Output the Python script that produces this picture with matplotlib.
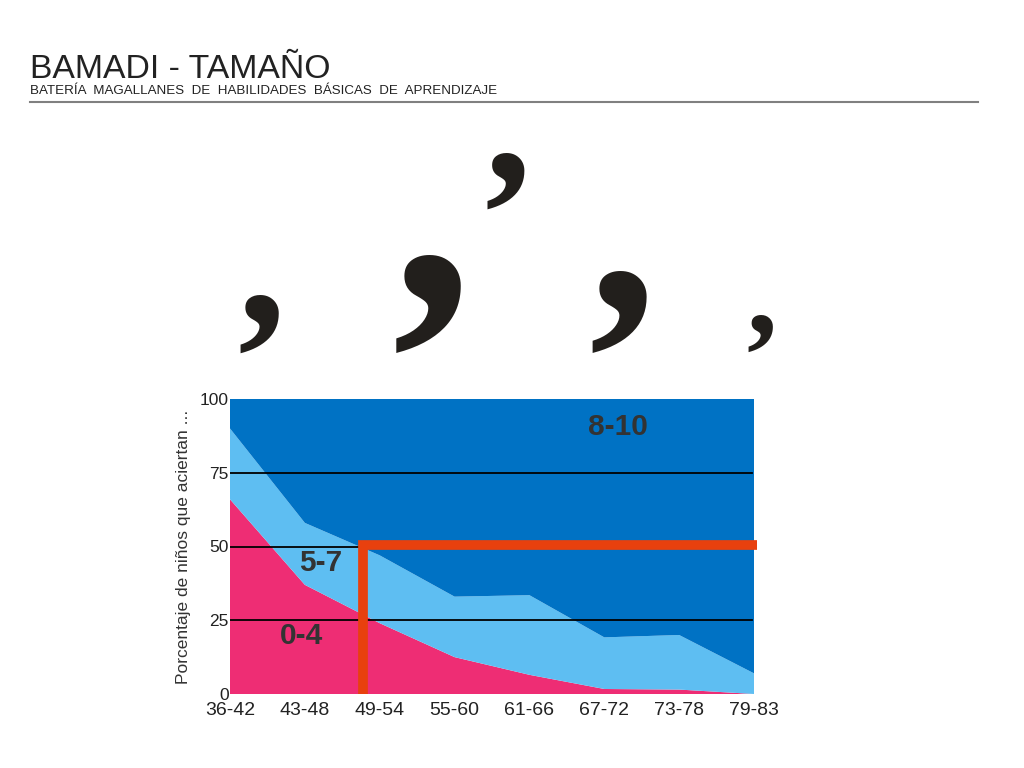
import matplotlib
matplotlib.use("Agg")
import matplotlib.pyplot as plt
from matplotlib.textpath import TextPath
from matplotlib.font_manager import FontProperties

# data
age_groups = ["36-42", "43-48", "49-54", "55-60", "61-66", "67-72", "73-78", "79-83"]
band_0_4 = [66, 37, 24, 12.5, 6.5, 1.7, 1.5, 0]
band_5_7 = [24, 21, 23, 20.5, 27, 17.5, 18.5, 7]
band_8_10 = [10, 42, 53, 67, 66.5, 80.8, 80, 93]
band_names = ["0-4", "5-7", "8-10"]
y_ticks = [0, 25, 50, 75, 100]
grid_levels = [25, 50, 75]

# red marker: age cut and percentage level
cut_x = 1.78
cut_y = 50.5

colors = ["#EE2D74", "#5EBEF2", "#0072C4"]
red = "#E8400E"
text_dark = "#333333"

W, H = 1024, 768
fig = plt.figure(figsize=(W / 100, H / 100), dpi=100)

# header
fig.text(30 / W, 1 - 78 / H, "BAMADI - TAMAÑO", fontsize=24.3, family="Liberation Sans",
         color="#222222", ha="left", va="baseline")
fig.text(30 / W, 1 - 94 / H, "BATERÍA  MAGALLANES  DE  HABILIDADES  BÁSICAS  DE  APRENDIZAJE",
         fontsize=9.6, family="Liberation Sans", color="#222222", ha="left", va="baseline")
fig.add_artist(plt.Line2D([30 / W, 978 / W], [1 - 102 / H, 1 - 102 / H], color="#808080", lw=1.5))

# decorative commas (left, top, right, bottom in px)
comma_boxes = [(240, 294, 283, 352), (397, 254, 468, 352), (592, 270, 652, 352),
               (748, 315, 776, 352), (487, 152, 528, 208)]
comma_font = FontProperties(family="Liberation Serif", weight="bold")
ext = TextPath((0, 0), ",", size=1, prop=comma_font).get_extents()
for l, t, r, b in comma_boxes:
    size_px = (b - t) / ext.height
    baseline = b + ext.y0 * size_px
    cx = (l + r) / 2
    fig.text(cx / W, 1 - baseline / H, ",", fontproperties=comma_font,
             fontsize=size_px * 72 / 100, color="#221F1C", ha="center", va="baseline")

# chart
ax = fig.add_axes([230 / W, 1 - 694 / H, 524 / W, 295 / H])
x = list(range(len(age_groups)))
ax.stackplot(x, band_0_4, band_5_7, band_8_10, colors=colors, linewidth=0)
for g in grid_levels:
    ax.axhline(g, color="black", lw=1.3, xmax=0.996, zorder=3)

ax.plot([cut_x, cut_x, 7.04], [0, cut_y, cut_y], color=red, lw=7,
        solid_joinstyle="miter", solid_capstyle="butt", clip_on=False, zorder=4)

label_pos = [(0.95, 19.5), (1.21, 44.5), (5.18, 90.5)]
for name, (lx, ly) in zip(band_names, label_pos):
    ax.text(lx, ly, name, fontsize=21.5, fontweight="bold", color=text_dark,
            family="Liberation Sans", ha="center", va="center")

ax.set_xlim(0, 7)
ax.set_ylim(0, 100)
ax.set_xticks(x)
ax.set_xticklabels(age_groups, fontsize=14, family="Liberation Sans", color="#222222")
ax.set_yticks(y_ticks)
ax.set_yticklabels([str(v) for v in y_ticks], fontsize=12.5, family="Liberation Sans", color="#222222")
ax.tick_params(axis="both", length=0)
ax.tick_params(axis="x", pad=6)
ax.tick_params(axis="y", pad=1)
ax.set_ylabel("Porcentaje de niños que aciertan ...", fontsize=12.5, family="Liberation Sans",
              color=text_dark, labelpad=6)
for s in ax.spines.values():
    s.set_visible(False)

fig.savefig("out.png", dpi=100)
